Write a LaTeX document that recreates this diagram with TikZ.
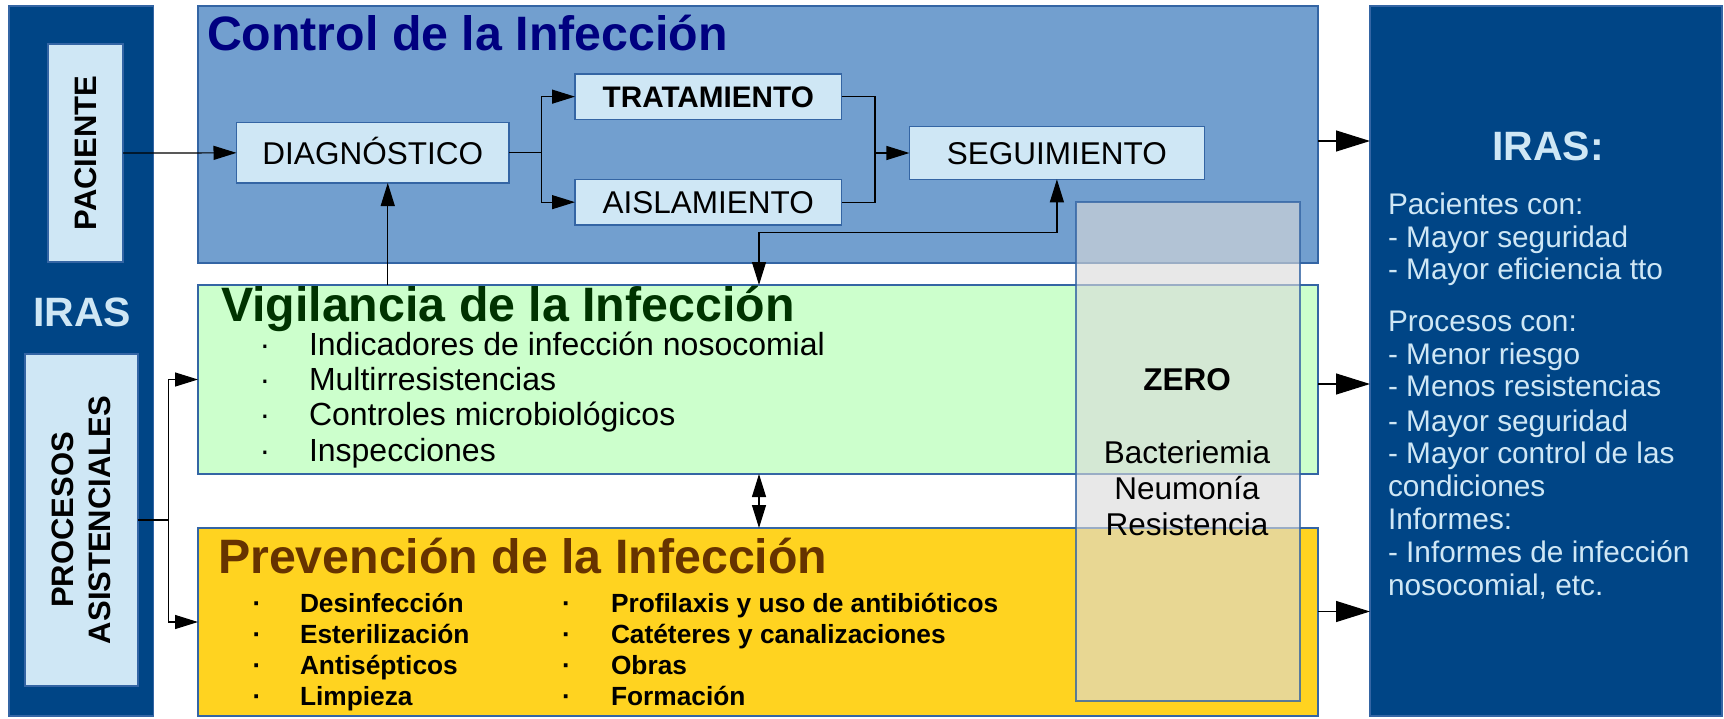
\documentclass[tikz,border=0pt]{standalone}
\usepackage{fontspec}
\setmainfont{Liberation Sans}
\usetikzlibrary{arrows.meta,calc}
\definecolor{panel}{HTML}{004586}
\definecolor{lightb}{HTML}{CFE7F5}
\definecolor{ctrlb}{HTML}{729FCF}
\definecolor{bord}{HTML}{3465A4}
\definecolor{vigf}{HTML}{CCFFCC}
\definecolor{prevf}{HTML}{FFD320}
\definecolor{navyt}{HTML}{000080}
\definecolor{dgreen}{HTML}{003300}
\definecolor{brownt}{HTML}{663300}
\definecolor{zerof}{HTML}{DADADA}
\newcommand\fTitle{\fontsize{48.3}{52}\selectfont\bfseries}
\newcommand\fBox{\fontsize{31.5}{36}\selectfont}
\newcommand\fBoxB{\fontsize{29.7}{34}\selectfont\bfseries}
\newcommand\fItem{\fontsize{32}{36}\selectfont}
\newcommand\fItemB{\fontsize{26.3}{30}\selectfont\bfseries}
\newcommand\fIras{\fontsize{41}{46}\selectfont\bfseries}
\newcommand\fSide{\fontsize{31}{36.5}\selectfont\bfseries}
\newcommand\fRight{\fontsize{29.8}{34}\selectfont}
\tikzset{
  area/.style={draw=bord, line width=1.2pt, inner sep=0pt, outer sep=0pt, anchor=north west},
  conn/.style={draw=black, line width=1.2pt},
  >={Triangle[length=23pt,width=14pt]},
  bigtip/.style={-{Triangle[length=34pt,width=21pt]}},
  txt/.style={inner sep=0pt, outer sep=0pt},
  title/.style={txt, font=\fTitle, anchor=base west},
}
\begin{document}
\begin{tikzpicture}[x=1pt,y=-1pt]
\useasboundingbox (0,0) rectangle (1724,718);
% panels and areas
\node[area, fill=panel, minimum width=144.5pt, minimum height=710pt] (lp) at (9,6) {};
\node[area, fill=panel, minimum width=352pt, minimum height=710pt] (rp) at (1370,6) {};
\node[area, fill=lightb, minimum width=75pt, minimum height=218pt] (pac) at (48,44) {};
\node[area, fill=lightb, minimum width=113pt, minimum height=332pt] (proc) at (25,354) {};
\node[area, fill=ctrlb, minimum width=1120pt, minimum height=257pt] (ctrl) at (198,6) {};
\node[area, fill=vigf, minimum width=1120pt, minimum height=189pt] (vig) at (198,285) {};
\node[area, fill=prevf, minimum width=1120pt, minimum height=188pt] (prev) at (198,528) {};
% process boxes
\node[area, fill=lightb, minimum width=272.5pt, minimum height=60.3pt, font=\fBox, text height=22.6pt, text depth=0pt] (diag) at (236.5,122.7) {DIAGNÓSTICO};
\node[area, fill=lightb, minimum width=266.5pt, minimum height=45.3pt, font=\fBoxB, text height=21.2pt, text depth=0pt] (trat) at (575,74) {TRATAMIENTO};
\node[area, fill=lightb, minimum width=266.5pt, minimum height=45.7pt, font=\fBox, text height=22.6pt, text depth=0pt] (aisl) at (575,179.3) {AISLAMIENTO};
\node[area, fill=lightb, minimum width=295pt, minimum height=52.6pt, font=\fBox, text height=22.6pt, text depth=0pt] (seg) at (909.4,126.7) {SEGUIMIENTO};
% connectors
\draw[conn, ->] (pac.east) -- (diag.west);
\draw[conn] (diag.east) -- ++(32.5,0) coordinate (b1);
\draw[conn, ->] (b1) |- (trat.west);
\draw[conn, ->] (b1) |- (aisl.west);
\draw[conn] (trat.east) -- ++(33.5,0) coordinate (m1) |- (aisl.east);
\draw[conn, ->] (m1 |- seg.west) -- (seg.west);
\coordinate (d1) at ([xshift=15pt]diag.south);
\draw[conn, ->] (d1 |- vig.north) -- (d1);
\coordinate (vx) at (759,0);
\coordinate (jy) at (0,232.5);
\draw[conn, <->] (vx |- vig.north) |- (seg.south |- jy) -- (seg.south);
\draw[conn, <->] (vx |- vig.south) -- (vx |- prev.north);
\draw[conn] (proc.east) -- ++(30.5,0) coordinate (b2);
\draw[conn, ->] (b2) |- (vig.west);
\draw[conn, ->] (b2) |- (prev.west);
\coordinate (r1) at (0,141);
\coordinate (r2) at (0,384);
\coordinate (r3) at (0,611.5);
\draw[conn, bigtip] (ctrl.east |- r1) -- (rp.west |- r1);
\draw[conn, bigtip] (vig.east |- r2) -- (rp.west |- r2);
\draw[conn, bigtip] (prev.east |- r3) -- (rp.west |- r3);
% ZERO overlay
\node[area, fill=zerof, fill opacity=0.62, draw opacity=0.8, minimum width=224pt, minimum height=499pt] (zero) at (1076,202) {};
% titles
\node[title, text=navyt] (ctitle) at (207,50.7) {Control de la Infección};
\node[title, text=dgreen] (vtitle) at (221,321.7) {Vigilancia de la Infección};
\node[title, text=brownt] (ptitle) at (218,573.3) {Prevención de la Infección};
% side texts
\node[txt, font=\fSide, rotate=90] (pactext) at (pac.center) {PACIENTE};
\node[txt, font=\fSide, rotate=90, align=center] (proctext) at (proc.center) {PROCESOS\\ASISTENCIALES};
\node[txt, font=\fIras, text=lightb, anchor=base] (liras) at (82,326.7) {IRAS};
\node[txt, font=\fIras, text=lightb, anchor=base] (riras) at (1548,160.6) {IRAS:};
% vigilancia items
\foreach \y/\t [count=\i] in {355/{Indicadores de infección nosocomial}, 390/{Multirresistencias}, 425.7/{Controles microbiológicos}, 461.7/{Inspecciones}}{
  \node[txt, font=\fItem, anchor=base] (vb\i) at (265,\y) {·};
  \node[txt, font=\fItem, anchor=base west] (vt\i) at (309,\y) {\t};
}
% prevencion items
\foreach \y/\ta/\tb [count=\i] in {612.5/{Desinfección}/{Profilaxis y uso de antibióticos}, 643.5/{Esterilización}/{Catéteres y canalizaciones}, 674.5/{Antisépticos}/{Obras}, 705/{Limpieza}/{Formación}}{
  \node[txt, font=\fItemB, anchor=base] (pb\i) at (257,\y) {·};
  \node[txt, font=\fItemB, anchor=base west] (pa\i) at (300,\y) {\ta};
  \node[txt, font=\fItemB, anchor=base] (pc\i) at (566.5,\y) {·};
  \node[txt, font=\fItemB, anchor=base west] (pd\i) at (611,\y) {\tb};
}
% ZERO texts
\node[txt, font=\fBox\bfseries, anchor=base] (z0) at (1187,390) {ZERO};
\node[txt, font=\fBox, anchor=base] (z1) at (1187,463.5) {Bacteriemia};
\node[txt, font=\fBox, anchor=base] (z2) at (1187,499.6) {Neumonía};
\node[txt, font=\fBox, anchor=base] (z3) at (1187,535.7) {Resistencia};
% right panel texts
\foreach \y/\t [count=\i] in {214.7/{Pacientes con:}, 247.7/{- Mayor seguridad}, 279.8/{- Mayor eficiencia tto}, 331/{Procesos con:}, 364.7/{- Menor riesgo}, 396.8/{- Menos resistencias}, 431/{- Mayor seguridad}, 463.3/{- Mayor control de las}, 496.8/{condiciones}, 529.8/{Informes:}, 562/{- Informes de infección}, 595.4/{nosocomial, etc.}}{
  \node[txt, font=\fRight, text=lightb, anchor=base west] (rt\i) at (1388,\y) {\t};
}
\end{tikzpicture}
\end{document}
